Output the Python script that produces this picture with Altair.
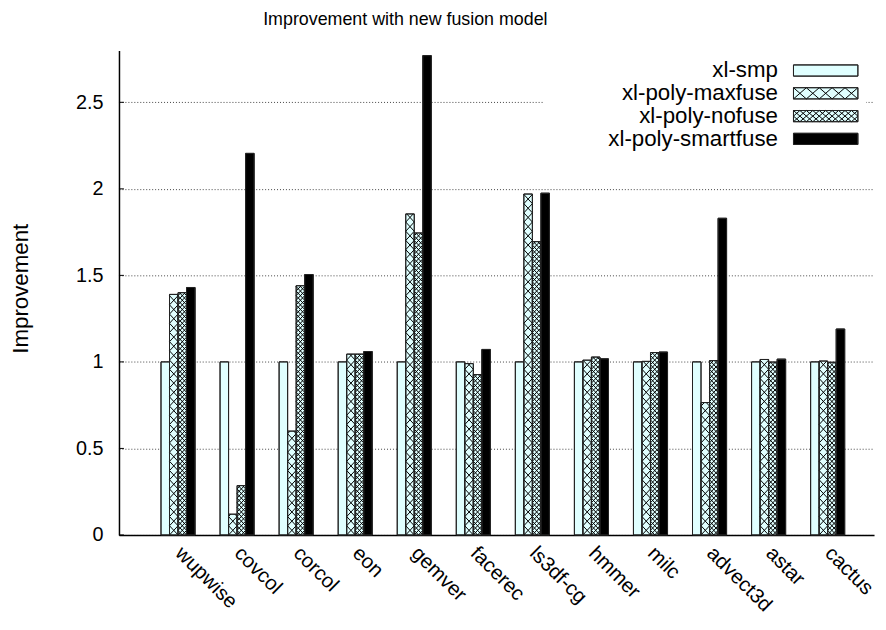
import altair as alt
import pandas as pd
import numpy as np

# ---------------- data ----------------
benchmarks = ["wupwise", "covcol", "corcol", "eon", "gemver", "facerec",
              "ls3df-cg", "hmmer", "milc", "advect3d", "astar", "cactus"]
series = ["xl-smp", "xl-poly-maxfuse", "xl-poly-nofuse", "xl-poly-smartfuse"]
smp = [1.0, 1.0, 1.0, 1.0, 1.0, 1.0, 1.0, 1.0, 1.0, 1.0, 1.0, 1.0]
maxfuse = [1.39, 0.12, 0.60, 1.045, 1.855, 0.99, 1.97, 1.01, 1.003, 0.765, 1.014, 1.005]
nofuse = [1.40, 0.285, 1.44, 1.045, 1.745, 0.927, 1.695, 1.028, 1.054, 1.008, 0.999, 0.998]
smartfuse = [1.43, 2.205, 1.505, 1.06, 2.77, 1.072, 1.975, 1.018, 1.057, 1.83, 1.016, 1.19]
y_ticks = [0, 0.5, 1, 1.5, 2, 2.5]
chart_title = "Improvement with new fusion model"
y_title = "Improvement"

# ---------------- layout ----------------
PLOT_W = 762
PLOT_H = 489
PX_PER_GROUP = 59.6
X_DOMAIN = [-1, -1 + PLOT_W / PX_PER_GROUP]
Y_DOMAIN = [0, 2.8]
PX_Y = PLOT_H / (Y_DOMAIN[1] - Y_DOMAIN[0])
BAR_W = 8.6 / PX_PER_GROUP
TICK_LEN = 5.0 / PX_PER_GROUP
LEFT, BOTTOM = 120.0, 537.0  # page position of the plot origin (for legend/title placement)

SANS = "'Liberation Sans', Arial, Helvetica, sans-serif"

fills = {"xl-smp": "#e0ffff", "xl-poly-maxfuse": "#e0ffff",
         "xl-poly-nofuse": "#e0ffff", "xl-poly-smartfuse": "#000000"}
# hatch: (line spacing as fraction of bar width, slope in pixels)
hatch_spec = {"xl-poly-maxfuse": (1.0, 1.08), "xl-poly-nofuse": (0.5, 1.08)}


def x_px(x):
    return (x - X_DOMAIN[0]) * PX_PER_GROUP


def px_x(p):
    return X_DOMAIN[0] + p / PX_PER_GROUP


def page_x(p):
    return px_x(p - LEFT)


def page_y(p):
    return (BOTTOM - p) / PX_Y


def hatch_segments(x0, x1, y0, y1, spacing, slope):
    """crosshatch lines inside a pixel rectangle (y upward)."""
    W = x1 - x0
    H = y1 - y0
    run = H / slope
    segs = []
    kmin = int(np.floor(-run / spacing)) - 1
    kmax = int(np.ceil((W + run) / spacing)) + 1
    for k in range(kmin, kmax + 1):
        a = x0 + k * spacing
        lo, hi = max(x0, a), min(x1, a + run)
        if hi - lo > 1e-6:
            segs.append((lo, y0 + slope * (lo - a), hi, y0 + slope * (hi - a)))
        lo, hi = max(x0, a - run), min(x1, a)
        if hi - lo > 1e-6:
            segs.append((lo, y0 + slope * (a - lo), hi, y0 + slope * (a - hi)))
    return segs


# ---------------- bars ----------------
rows, hrows = [], []
for i, b in enumerate(benchmarks):
    for k, (s, vals) in enumerate(zip(series, [smp, maxfuse, nofuse, smartfuse])):
        xc = i + (k - 1.5) * BAR_W
        x0, x1 = xc - BAR_W / 2, xc + BAR_W / 2
        v = vals[i]
        rows.append(dict(bench=b, series=s, x0=x0, x1=x1, v=v, base=0.0, fill=fills[s]))
        if s in hatch_spec:
            frac, slope = hatch_spec[s]
            for (a, b0, c, d) in hatch_segments(x_px(x0), x_px(x1), 0.0, v * PX_Y,
                                                 frac * BAR_W * PX_PER_GROUP, slope):
                hrows.append(dict(x0=px_x(a), v=b0 / PX_Y, x1=px_x(c), base=d / PX_Y))
bars = pd.DataFrame(rows)
hatch = pd.DataFrame(hrows)

# inward y tick marks (gnuplot style)
ticks_df = pd.DataFrame(dict(x0=[X_DOMAIN[0]] * len(y_ticks),
                             x1=[X_DOMAIN[0] + TICK_LEN] * len(y_ticks),
                             v=y_ticks))

xscale = alt.Scale(domain=X_DOMAIN, nice=False, zero=False)
yscale = alt.Scale(domain=Y_DOMAIN, nice=False, zero=False)

label_expr = "[" + ",".join("'%s'" % b for b in benchmarks) + "][datum.value]"

x_axis = alt.Axis(values=list(range(len(benchmarks))), labelExpr=label_expr, title=None,
                  labelAngle=45, labelAlign="left", labelBaseline="middle",
                  labelPadding=15, ticks=False, grid=False, labelOverlap=False,
                  labelFlush=False, labelFont=SANS, labelFontSize=20.5, labelColor="black",
                  domainColor="black", domainWidth=1.5)
y_axis = alt.Axis(values=y_ticks, format="~g", title=y_title, ticks=False,
                  labelFont=SANS, labelFontSize=20, labelColor="black", labelPadding=16,
                  grid=True, gridDash=[1, 2], gridColor="#444", gridWidth=1,
                  domainColor="black", domainWidth=1.5,
                  titleFont=SANS, titleFontSize=22.5, titleFontWeight="normal",
                  titleColor="black", titleAngle=-90, titleX=-92, titleY=240,
                  titleBaseline="alphabetic", titleAlign="center")

X = alt.X("x0:Q", scale=xscale, axis=x_axis, title=None)
Y = alt.Y("v:Q", scale=yscale, axis=y_axis, title=y_title)

tick_layer = alt.Chart(ticks_df).mark_rule(color="black", strokeWidth=1).encode(
    x=X, x2="x1:Q", y=Y,
)

bar_layer = alt.Chart(bars).mark_rect(stroke="#222", strokeWidth=1).encode(
    x=X, x2="x1:Q", y=Y, y2="base:Q",
    color=alt.Color("fill:N", scale=None),
)

hatch_layer = alt.Chart(hatch).mark_rule(color="black", strokeWidth=1).encode(
    x=X, x2="x1:Q", y=Y, y2="base:Q",
)

outline_layer = alt.Chart(bars).mark_rect(stroke="#222", strokeWidth=1, fillOpacity=0).encode(
    x=X, x2="x1:Q", y=Y, y2="base:Q",
)

# ---------------- legend (drawn manually: label left of sample box) ----------------
row_y = [68.3, 91.3, 114.3, 137.3]
box_x0, box_x1, box_h = 800.7, 865.7, 11.3
text_right = 785.0

leg_bg = pd.DataFrame([dict(x0=page_x(548), x1=page_x(874), v=page_y(56), base=page_y(150))])
leg_rows, leg_hatch = [], []
for s, ry in zip(series, row_y):
    leg_rows.append(dict(label=s, tx=page_x(text_right), ty=page_y(ry),
                         x0=page_x(box_x0), x1=page_x(box_x1),
                         v=page_y(ry - box_h / 2), base=page_y(ry + box_h / 2), fill=fills[s]))
    if s in hatch_spec:
        spacing = 13.0 if s == "xl-poly-maxfuse" else 6.5
        slope = box_h / 13.0
        yb = ry + box_h / 2
        for (a, b0, c, d) in hatch_segments(box_x0, box_x1, 0.0, box_h, spacing, slope):
            leg_hatch.append(dict(x0=page_x(a), v=page_y(yb - b0),
                                  x1=page_x(c), base=page_y(yb - d)))
leg = pd.DataFrame(leg_rows)
leg_h = pd.DataFrame(leg_hatch)

leg_bg_layer = alt.Chart(leg_bg).mark_rect(color="white").encode(
    x=X, x2="x1:Q", y=Y, y2="base:Q",
)
leg_box_layer = alt.Chart(leg).mark_rect(stroke="#222", strokeWidth=1).encode(
    x=X, x2="x1:Q", y=Y, y2="base:Q",
    color=alt.Color("fill:N", scale=None),
)
leg_hatch_layer = alt.Chart(leg_h).mark_rule(color="black", strokeWidth=1).encode(
    x=X, x2="x1:Q", y=Y, y2="base:Q",
)
leg_outline_layer = alt.Chart(leg).mark_rect(stroke="#222", strokeWidth=1, fillOpacity=0).encode(
    x=X, x2="x1:Q", y=Y, y2="base:Q",
)
leg_text_layer = alt.Chart(leg).mark_text(align="right", baseline="middle", font=SANS,
                                          fontSize=22.5, color="black").encode(
    x=alt.X("tx:Q", scale=xscale, axis=x_axis, title=None),
    y=alt.Y("ty:Q", scale=yscale, axis=y_axis, title=y_title),
    text="label:N",
)

# chart title as a text mark placed above the plot (centred like the reference)
title_df = pd.DataFrame([dict(label=chart_title, tx=page_x(409), ty=page_y(17.5))])
title_layer = alt.Chart(title_df).mark_text(align="center", baseline="middle", font=SANS,
                                            fontSize=18, color="black").encode(
    x=alt.X("tx:Q", scale=xscale, axis=x_axis, title=None),
    y=alt.Y("ty:Q", scale=yscale, axis=y_axis, title=y_title),
    text="label:N",
)

chart = alt.layer(
    tick_layer, bar_layer, hatch_layer, outline_layer,
    leg_bg_layer, leg_box_layer, leg_hatch_layer, leg_outline_layer, leg_text_layer,
    title_layer,
).properties(
    width=PLOT_W,
    height=PLOT_H,
    background="white",
    autosize=alt.AutoSizeParams(type="none"),
    padding={"left": 112, "top": 40, "right": 4, "bottom": 80},
).configure_view(stroke=None)

chart.save("out.html", embed_options={"renderer": "svg", "actions": False})
